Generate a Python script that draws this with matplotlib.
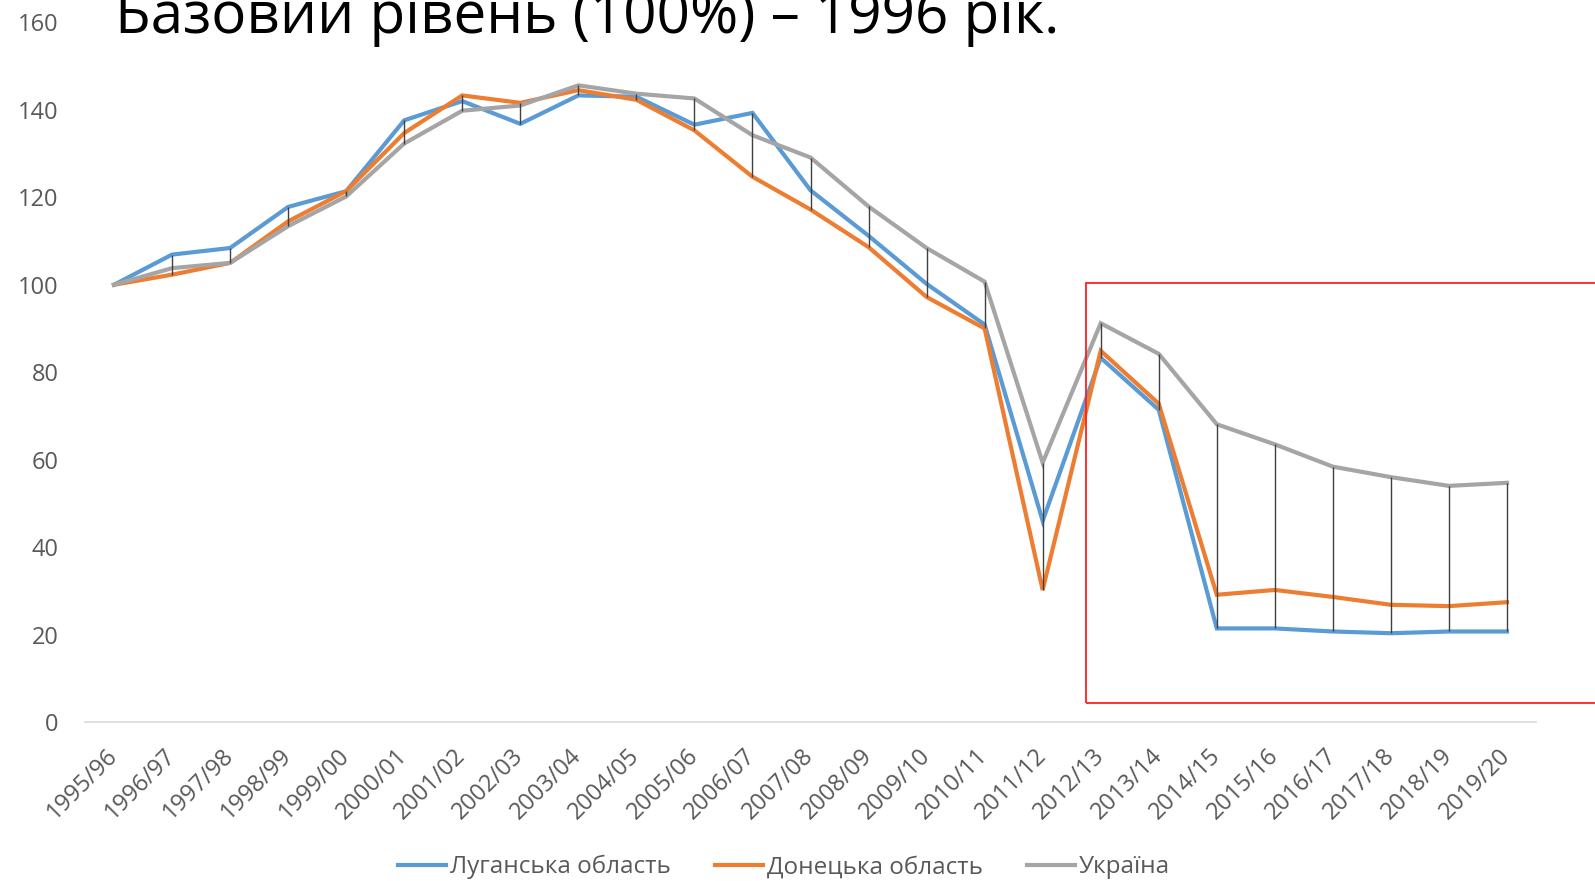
import matplotlib
matplotlib.use("Agg")
import matplotlib.pyplot as plt
from matplotlib.patches import Rectangle
import numpy as np

plt.rcParams['font.family'] = ['Open Sans', 'DejaVu Sans']

# seasons on the x axis
years = ['1995/96', '1996/97', '1997/98', '1998/99', '1999/00', '2000/01',
         '2001/02', '2002/03', '2003/04', '2004/05', '2005/06', '2006/07',
         '2007/08', '2008/09', '2009/10', '2010/11', '2011/12', '2012/13',
         '2013/14', '2014/15', '2015/16', '2016/17', '2017/18', '2018/19',
         '2019/20']

# index values, base level 1996 = 100
luhansk = [100, 106.9, 108.4, 117.8, 121.4, 137.6, 142.0, 136.8, 143.3, 143.0,
           136.6, 139.3, 121.6, 111.2, 100.2, 90.9, 46.0, 83.3, 71.4, 21.4,
           21.4, 20.7, 20.3, 20.7, 20.7]
donetsk = [100, 102.3, 105.0, 114.5, 121.4, 134.7, 143.3, 141.6, 144.5, 142.3,
           135.3, 124.7, 117.2, 108.6, 97.2, 90.0, 30.2, 84.9, 72.8, 29.1,
           30.2, 28.6, 26.8, 26.5, 27.4]
ukraine = [100, 103.8, 105.0, 113.4, 120.2, 132.3, 139.8, 141.0, 145.6, 143.7,
           142.6, 134.2, 129.1, 117.9, 108.4, 100.7, 59.3, 91.2, 84.2, 68.1,
           63.5, 58.4, 56.0, 54.0, 54.7]

series_names = ['Луганська область', 'Донецька область', 'Україна']
colors = ['#5B9BD5', '#ED7D31', '#A5A5A5']

title = 'Базовий рівень (100%) – 1996 рік.'

fig = plt.figure(figsize=(15.95, 8.81), dpi=100)
ax = fig.add_axes([85 / 1595, 1 - 722 / 881, 1451 / 1595, 699.6 / 881])

x = np.arange(len(years))
data = np.array([luhansk, donetsk, ukraine])

# high-low lines
ax.vlines(x, data.min(axis=0), data.max(axis=0), color='#404040', lw=1.0, zorder=3)

for vals, name, c in zip(data, series_names, colors):
    ax.plot(x, vals, color=c, lw=3.0, label=name, zorder=2, solid_joinstyle='miter')

ax.set_xlim(-0.5, len(years) - 0.5)
ax.set_ylim(0, 160)
ax.set_yticks(range(0, 161, 20))
ax.set_xticks(x)
ax.set_xticklabels(years, rotation=45, ha='right', va='center', rotation_mode='anchor')
ax.tick_params(axis='both', length=0, labelsize=17, colors='#595959')
ax.tick_params(axis='y', pad=19)
ax.tick_params(axis='x', pad=22)

for s in ['top', 'right', 'left']:
    ax.spines[s].set_visible(False)
ax.spines['bottom'].set_color('#D9D9D9')
ax.spines['bottom'].set_linewidth(1.2)

# red frame around the 2012/13 - 2019/20 part
ax.add_patch(Rectangle((16.74, 4.3), 10, 96.2, fill=False, edgecolor='#FF2020',
                       lw=1.3, clip_on=False, zorder=4))

fig.text(115 / 1595, 1 - 33 / 881, title, fontsize=42, va='baseline', ha='left',
         color='black')

fig.legend(loc='center', bbox_to_anchor=(784 / 1595, 1 - 867 / 881), ncol=3,
           frameon=False, fontsize=17.5, handlelength=2.0, handletextpad=0.15,
           columnspacing=1.8, labelcolor='#595959')

fig.savefig('out.png', dpi=100)
